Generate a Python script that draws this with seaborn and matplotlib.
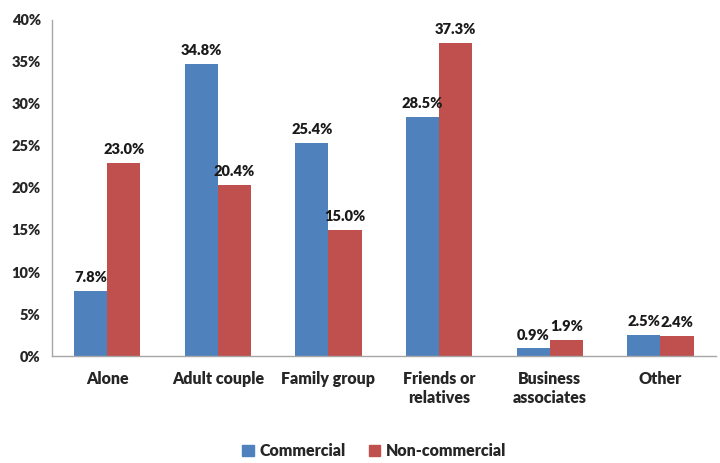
import matplotlib
matplotlib.use("Agg")
import matplotlib.pyplot as plt
import seaborn as sns
import pandas as pd

categories = ["Alone", "Adult couple", "Family group", "Friends or\nrelatives", "Business\nassociates", "Other"]
commercial = [7.8, 34.8, 25.4, 28.5, 0.9, 2.5]
non_commercial = [23.0, 20.4, 15.0, 37.3, 1.9, 2.4]
series_names = ["Commercial", "Non-commercial"]
colors = ["#4F81BD", "#C0504D"]

df = pd.DataFrame({
    "category": categories * 2,
    "value": commercial + non_commercial,
    "series": [series_names[0]] * len(categories) + [series_names[1]] * len(categories),
})

sns.set_style("white")
plt.rcParams["font.family"] = ["Lato", "DejaVu Sans"]
plt.rcParams["font.weight"] = "bold"

fig = plt.figure(figsize=(7.2, 4.63), dpi=100)
ax = fig.add_axes([0.072, 0.231, 0.922, 0.726])

sns.barplot(data=df, x="category", y="value", hue="series", palette=colors,
            width=0.6, saturation=1, ax=ax, legend=True, linewidth=0)

for cont in ax.containers:
    ax.bar_label(cont, labels=[f"{v:.1f}%" for v in cont.datavalues], padding=5,
                 fontsize=10.5, fontweight="heavy", color="#1a1a1a")

ax.set_ylim(0, 40)
ax.set_yticks(range(0, 41, 5))
ax.set_yticklabels([f"{t}%" for t in range(0, 41, 5)], fontsize=10.5, fontweight="heavy")
ax.tick_params(axis="x", labelsize=11.5, length=0, pad=11)
ax.tick_params(axis="y", length=0, pad=8)
for lbl in ax.get_xticklabels():
    lbl.set_fontweight("heavy")
ax.set_xlabel("")
ax.set_ylabel("")
ax.set_xlim(-0.5, 5.5)
for s in ["top", "right"]:
    ax.spines[s].set_visible(False)
for s in ["left", "bottom"]:
    ax.spines[s].set_color("#A6A6A6")
    ax.spines[s].set_linewidth(1)

ax.get_legend().remove()
handles = [plt.Rectangle((0, 0), 1, 1, color=c) for c in colors]
fig.legend(handles, series_names, loc="lower center", bbox_to_anchor=(0.52, -0.022), ncol=2,
           frameon=False, handlelength=0.7, handleheight=0.7, handletextpad=0.4,
           columnspacing=1.4, prop={"size": 11.5, "weight": "heavy"})

fig.savefig("out.png", dpi=100)
